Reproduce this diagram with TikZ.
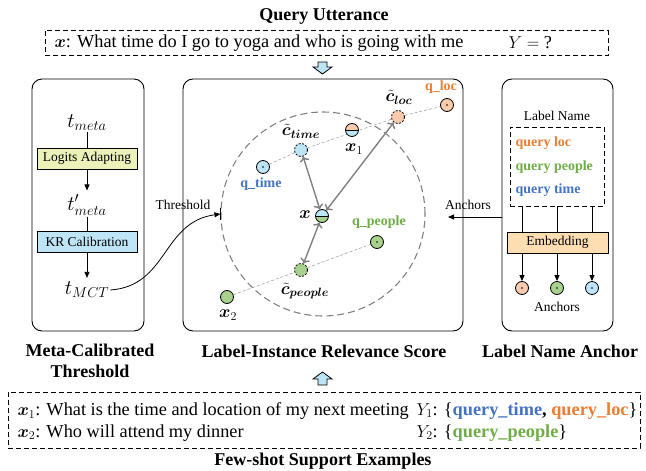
\documentclass[tikz,border=0pt]{standalone}
\usepackage{amsmath}
\usepackage{bm}
\usepackage{fontspec}
\setmainfont{Liberation Serif}
\usetikzlibrary{arrows.meta,backgrounds}
\definecolor{corange}{HTML}{ED7D31}
\definecolor{cgreen}{HTML}{70AD47}
\definecolor{cblue}{HTML}{4472C4}
\definecolor{forange}{HTML}{F8CBAD}
\definecolor{fgreen}{HTML}{A9D18E}
\definecolor{fblue}{HTML}{BDE5F5}
\definecolor{fyellow}{HTML}{EBF1B9}
\definecolor{fembed}{HTML}{FDDDB2}
\tikzset{
  every node/.style={font=\fontsize{14}{16}\selectfont},
  bigf/.style={font=\fontsize{18.3}{21}\selectfont},
  titlef/.style={font=\fontsize{18}{21}\selectfont\bfseries},
  mathf/.style={font=\fontsize{19.5}{21}\selectfont, inner sep=1pt},
  lblf/.style={font=\fontsize{18}{20}\selectfont, inner sep=0.5pt},
  smallf/.style={font=\fontsize{13.5}{15}\selectfont},
  panel/.style={draw, rounded corners=10pt, line width=0.9pt},
  dashbox/.style={draw, dash pattern=on 5pt off 3pt, line width=0.9pt},
  pt/.style={circle, draw, line width=0.8pt, minimum size=13pt, inner sep=0pt},
  anchorpt/.style={pt, path picture={\fill[black] (path picture bounding box.center) circle[radius=0.9pt];}},
  proto/.style={pt, dash pattern=on 2pt off 1.5pt},
  halfpt/.style 2 args={pt, path picture={
      \fill[#1] (path picture bounding box.north west) rectangle (path picture bounding box.east);
      \fill[#2] (path picture bounding box.west) rectangle (path picture bounding box.south east);
      \draw[line width=0.8pt] (path picture bounding box.west) -- (path picture bounding box.east);}},
  procbox/.style={draw, line width=0.8pt, minimum width=100pt, minimum height=21pt, inner sep=0pt, font=\fontsize{13.5}{15}\selectfont},
  arr/.style={line width=0.8pt, -{Triangle[length=6pt,width=5pt]}},
  simdouble/.style={gray, line width=1.4pt, {To[length=5pt,width=10pt]}-{To[length=5pt,width=10pt]}},
  guide/.style={gray!70, dash pattern=on 3pt off 2pt, line width=0.6pt},
  blockarrow/.style={draw, line width=0.8pt, fill=fblue, line join=miter}
}
\begin{document}
\begin{tikzpicture}[x=1pt,y=-1pt]
\useasboundingbox (0,0) rectangle (646,471);
% ---------- top
\node[titlef] (qtitle) at (324,16) {Query Utterance};
\node[dashbox, minimum width=563pt, minimum height=25pt] (qbox) at (326.5,43) {};
\node[anchor=west, bigf] (qtext) at (51,43) {$\bm{x}$: What time do I go to yoga and who is going with me};
\node[anchor=west, bigf] (qy) at (505,43) {$Y=$ ?};
\draw[blockarrow] (318,62) -- (327,62) -- (327,67) -- (332,67) -- (322.5,74) -- (313,67) -- (318,67) -- cycle;
% ---------- panels
\node[panel, minimum width=112pt, minimum height=252pt] (lpanel) at (88,205) {};
\node[panel, minimum width=280pt, minimum height=252pt] (mpanel) at (323,205) {};
\node[panel, minimum width=111pt, minimum height=252pt] (rpanel) at (557.5,205) {};
% ---------- left panel
\node[mathf] (tmeta) at (87,123) {$t_{meta}$};
\node[procbox, fill=fyellow] (logits) at (87,158.5) {Logits Adapting};
\node[mathf] (tmeta2) at (87,205) {$t'_{meta}$};
\node[procbox, fill=fblue] (kr) at (87,242) {KR Calibration};
\node[mathf] (tmct) at (87,290) {$t_{MCT}$};
\draw[line width=0.8pt] (tmeta) -- (logits);
\draw[arr, shorten >=3pt] (logits) -- (tmeta2);
\draw[line width=0.8pt] (tmeta2) -- (kr);
\draw[arr, shorten >=3pt] (kr) -- (tmct);
% ---------- middle panel
\node[draw=gray, circle, minimum size=204pt, line width=1.1pt, dash pattern=on 7pt off 4pt] (thr) at (323,214) {};
\draw[line width=0.8pt] ([yshift=6pt]thr.west) -- ([yshift=-6pt]thr.west);
\node[anchorpt, fill=forange] (qloc) at (447,105) {};
\node[text=corange] (qlocl) at (441,87) {\textbf{q\_loc}};
\node[proto, fill=forange] (cloc) at (398,117) {};
\node[lblf] (clocl) at (399,97) {$\bm{\tilde{c}_{loc}}$};
\node[halfpt={forange}{fblue}] (x1) at (352,130) {};
\node[lblf] (x1l) at (354,149) {$\bm{x}_1$};
\node[proto, fill=fblue] (ctime) at (301,150) {};
\node[lblf] (ctimel) at (301,131) {$\bm{\tilde{c}_{time}}$};
\node[anchorpt, fill=fblue] (qtime) at (263,167) {};
\node[text=cblue] (qtimel) at (261,184) {\textbf{q\_time}};
\node[halfpt={fblue}{fgreen}] (xq) at (322,216) {};
\node[lblf] (xql) at (305,215) {$\bm{x}$};
\node[anchorpt, fill=fgreen] (qpeople) at (377,242) {};
\node[text=cgreen] (qpeoplel) at (379,222) {\textbf{q\_people}};
\node[proto, fill=fgreen] (cpeople) at (301,270) {};
\node[lblf] (cpeoplel) at (305,291) {$\bm{\tilde{c}_{people}}$};
\node[pt, fill=fgreen] (x2) at (227,297) {};
\node[lblf] (x2l) at (228,315) {$\bm{x}_2$};
\begin{scope}[on background layer]
  \draw[guide] (qtime) -- (ctime) -- (cloc) -- (qloc);
  \draw[guide] (x2) -- (cpeople) -- (qpeople);
\end{scope}
\draw[simdouble] (ctime) -- (xq);
\draw[simdouble] (cloc) -- (xq);
\draw[simdouble] (cpeople) -- (xq);
% threshold connector
\node[smallf] (thrl) at (183,205) {Threshold};
\draw[arr] (tmct.east) .. controls (168,286) and (162,222) .. (thr.west);
% anchors connector
\coordinate (anctip) at (448,217);
\node[smallf] (ancl) at (468,205) {Anchors};
\draw[arr] ([yshift=-12pt]rpanel.west) -- (anctip);
% ---------- right panel
\node[smallf] (lname) at (557,116) {Label Name};
\node[dashbox, minimum width=94pt, minimum height=79pt] (lbox) at (557,166.5) {};
\node[anchor=west, text=corange] (lloc) at (512,143) {\textbf{query loc}};
\node[anchor=west, text=cgreen] (lpeople) at (512,167) {\textbf{query people}};
\node[anchor=west, text=cblue] (ltime) at (512,190) {\textbf{query time}};
\node[procbox, fill=fembed, minimum width=101pt] (embed) at (557.5,242.5) {Embedding};
\node[anchorpt, fill=forange] (aloc) at (522,288) {};
\node[anchorpt, fill=fgreen] (apeople) at (557,288) {};
\node[anchorpt, fill=fblue] (atime) at (592,288) {};
\node[smallf] (anchl) at (557,307) {Anchors};
\foreach \a in {aloc,apeople,atime}{
  \draw[line width=0.8pt] (lbox.south -| \a) -- (embed.north -| \a);
  \draw[arr] (embed.south -| \a) -- (\a);
}
% ---------- bottom titles
\node[titlef, align=center] (lt) at (90,361) {Meta-Calibrated\\Threshold};
\node[titlef] (mt) at (324,351) {Label-Instance Relevance Score};
\node[titlef] (rt) at (560,351) {Label Name Anchor};
\draw[blockarrow] (318,385) -- (327,385) -- (327,379) -- (332,379) -- (322.5,372) -- (313,379) -- (318,379) -- cycle;
% ---------- support examples
\node[dashbox, minimum width=632pt, minimum height=56pt] (sbox) at (324,420) {};
\node[anchor=west, bigf] (s1) at (14,411) {$\bm{x}_1$: What is the time and location of my next meeting};
\node[anchor=west, bigf] (s2) at (14,433) {$\bm{x}_2$: Who will attend my dinner};
\node[anchor=west, bigf] (y1) at (413,411) {$Y_1$: \{\textcolor{cblue}{\textbf{query\_time}}\textbf{,} \textcolor{corange}{\textbf{query\_loc}}\}};
\node[anchor=west, bigf] (y2) at (413,433) {$Y_2$: \{\textcolor{cgreen}{\textbf{query\_people}}\}};
\node[titlef] (ft) at (323,461) {Few-shot Support Examples};
\end{tikzpicture}
\end{document}
